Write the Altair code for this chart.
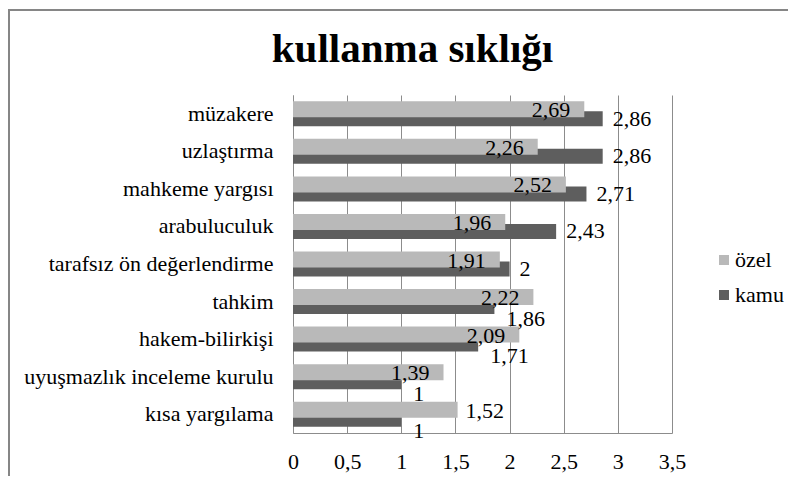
import json
import altair as alt
import pandas as pd

# ---- data ----
categories = [
    "müzakere",
    "uzlaştırma",
    "mahkeme yargısı",
    "arabuluculuk",
    "tarafsız ön değerlendirme",
    "tahkim",
    "hakem-bilirkişi",
    "uyuşmazlık inceleme kurulu",
    "kısa yargılama",
]
ozel = [2.69, 2.26, 2.52, 1.96, 1.91, 2.22, 2.09, 1.39, 1.52]
kamu = [2.86, 2.86, 2.71, 2.43, 2, 1.86, 1.71, 1, 1]
series_names = ["özel", "kamu"]
x_ticks = [0, 0.5, 1, 1.5, 2, 2.5, 3, 3.5]
title_text = "kullanma sıklığı"
# özel labels that sit outside the bar end in the reference
ozel_labels_outside = ["kısa yargılama"]

df = pd.DataFrame({"kategori": categories, "ozel": ozel, "kamu": kamu})

FONT = "Liberation Serif"
LIGHT = "#b9b9b9"
DARK = "#5e5e5e"
GRID = "#8c8c8c"
FRAME = "#868686"
FS = 22

color_scale = alt.Scale(domain=series_names, range=[LIGHT, DARK])
x_scale = alt.Scale(domain=[0, 3.5], nice=False, zero=True)
x_axis = alt.Axis(
    title=None, values=x_ticks,
    labelExpr="replace(toString(datum.value), '.', ',')",
    ticks=False, labelPadding=18, grid=True, labelFlush=False,
)
y_enc = alt.Y(
    "kategori:N", sort=categories,
    scale=alt.Scale(paddingInner=0, paddingOuter=0),
    axis=alt.Axis(title=None, labelPadding=20, ticks=False, grid=False,
                  labelLimit=400),
)
legend = alt.Legend(
    title=None, orient="none", legendX=420, legendY=154,
    symbolType="square", symbolSize=100, symbolStrokeWidth=0,
    rowPadding=13, labelOffset=0, padding=0,
)

base = alt.Chart(df)
lbl_expr = "replace(toString(datum.{f}), '.', ',')"
outside_json = json.dumps(ozel_labels_outside, ensure_ascii=False)

kamu_bars = base.transform_calculate(seri=f"'{series_names[1]}'").mark_bar(
    height=15, yOffset=5
).encode(
    x=alt.X("kamu:Q", scale=x_scale, axis=x_axis),
    y=y_enc,
    color=alt.Color("seri:N", scale=color_scale, legend=legend),
)
ozel_bars = base.transform_calculate(seri=f"'{series_names[0]}'").mark_bar(
    height=16, yOffset=-4.5
).encode(
    x=alt.X("ozel:Q", scale=x_scale, axis=x_axis),
    y=y_enc,
    color=alt.Color("seri:N", scale=color_scale, legend=legend),
)

text_style = dict(font=FONT, fontSize=FS, color="black", baseline="middle")

ozel_text_in = base.transform_filter(
    f"indexof({outside_json}, datum.kategori) < 0"
).transform_calculate(lbl=lbl_expr.format(f="ozel")).mark_text(
    align="right", dx=-14, yOffset=-3.5, **text_style
).encode(x=alt.X("ozel:Q", scale=x_scale, axis=x_axis), y=y_enc, text="lbl:N")

ozel_text_out = base.transform_filter(
    f"indexof({outside_json}, datum.kategori) >= 0"
).transform_calculate(lbl=lbl_expr.format(f="ozel")).mark_text(
    align="left", dx=8, yOffset=-3.5, **text_style
).encode(x=alt.X("ozel:Q", scale=x_scale, axis=x_axis), y=y_enc, text="lbl:N")

kamu_text_hi = base.transform_filter(
    "datum.kamu >= datum.ozel"
).transform_calculate(lbl=lbl_expr.format(f="kamu")).mark_text(
    align="left", dx=10, yOffset=5, **text_style
).encode(x=alt.X("kamu:Q", scale=x_scale, axis=x_axis), y=y_enc, text="lbl:N")

kamu_text_lo = base.transform_filter(
    "datum.kamu < datum.ozel"
).transform_calculate(lbl=lbl_expr.format(f="kamu")).mark_text(
    align="left", dx=12, yOffset=17, **text_style
).encode(x=alt.X("kamu:Q", scale=x_scale, axis=x_axis), y=y_enc, text="lbl:N")

# outer chart frame (left and top edge, as in the reference)
frame_df = pd.DataFrame({"k": [0]})
frame_left = alt.Chart(frame_df).mark_rule(color=FRAME, strokeWidth=2).encode(
    x=alt.value(-284), y=alt.value(-86), y2=alt.value(383)
)
frame_top = alt.Chart(frame_df).mark_rule(color=FRAME, strokeWidth=2).encode(
    x=alt.value(-285), x2=alt.value(495), y=alt.value(-85)
)

chart = alt.layer(
    frame_left, frame_top,
    kamu_bars, ozel_bars,
    ozel_text_in, ozel_text_out, kamu_text_hi, kamu_text_lo,
).properties(
    width=379, height=338,
    autosize="none",
    padding={"left": 285, "top": 87, "right": 116, "bottom": 43},
    title=alt.Title(
        title_text, font=FONT, fontSize=41, fontWeight="bold", color="black",
        anchor="middle", dx=-70, baseline="bottom", offset=-104,
    ),
    background="white",
).configure_view(
    stroke=None
).configure_axis(
    labelFont=FONT, labelFontSize=FS, labelColor="black",
    domainColor=GRID, domainWidth=1, gridColor=GRID, gridWidth=1,
).configure_legend(
    labelFont=FONT, labelFontSize=FS, labelColor="black",
)

chart.save("out.html", embed_options={"renderer": "svg", "actions": False})
